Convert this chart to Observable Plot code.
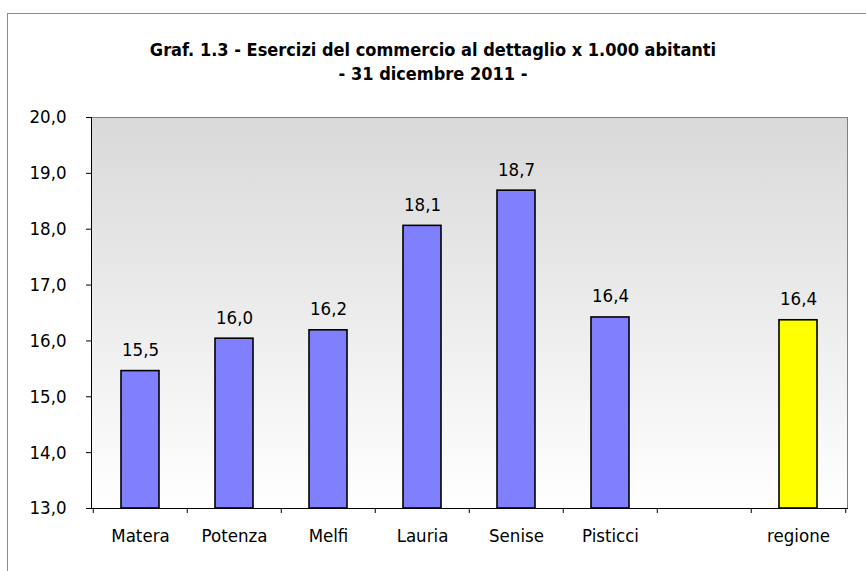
<!DOCTYPE html>
<html>
<head>
<meta charset="utf-8">
<script src="https://cdn.jsdelivr.net/npm/d3@7"></script>
<script src="https://cdn.jsdelivr.net/npm/@observablehq/plot@0.6"></script>
<style>
  html, body { margin: 0; padding: 0; background: #fff; }
  #wrap { position: relative; width: 866px; height: 571px; overflow: hidden; font-family: "DejaVu Sans Condensed", "DejaVu Sans", sans-serif; font-stretch: condensed; color: #000; }
  #border { position: absolute; left: 7px; top: 13px; width: 920px; height: 620px; border: 1px solid #8c8c8c; box-sizing: border-box; pointer-events: none; }
  #title { height: 100px; box-sizing: border-box; padding-top: 38px; text-align: center; font-weight: bold; font-size: 18px; line-height: 24px; }
  #chart svg { display: block; }
</style>
</head>
<body>
<div id="wrap">
  <div id="border"></div>
  <div id="title">Graf. 1.3 - Esercizi del commercio al dettaglio x 1.000 abitanti<br>- 31 dicembre 2011 -</div>
  <div id="chart"></div>
</div>
<script>
const categories = ["Matera", "Potenza", "Melfi", "Lauria", "Senise", "Pisticci", "", "regione"];
const values = [15.46, 16.04, 16.19, 18.06, 18.69, 16.42, null, 16.37];
const barColors = ["#8080FF", "#8080FF", "#8080FF", "#8080FF", "#8080FF", "#8080FF", null, "#FFFF00"];
const yTicks = [13, 14, 15, 16, 17, 18, 19, 20];

const data = categories
  .map((c, i) => ({cat: c, v: values[i], color: barColors[i]}))
  .filter(d => d.v != null);

const fmt = v => v.toFixed(1).replace(".", ",");

const W = 866, H = 471, ML = 91, MR = 19, MT = 17, MB = 63;
const step = (W - ML - MR) / categories.length;
const FONT = "'DejaVu Sans Condensed', 'DejaVu Sans', sans-serif";
const FS = 18.5;

const gradient = () => {
  const g = d3.create("svg:g");
  const lg = g.append("defs").append("linearGradient")
    .attr("id", "bgGrad").attr("x1", 0).attr("y1", 0).attr("x2", 0).attr("y2", 1);
  lg.append("stop").attr("offset", "0%").attr("stop-color", "#d9d9d9");
  lg.append("stop").attr("offset", "100%").attr("stop-color", "#ffffff");
  return g.node();
};

const chart = Plot.plot({
  width: W, height: H,
  marginLeft: ML, marginRight: MR, marginTop: MT, marginBottom: MB,
  style: {fontFamily: FONT, fontStretch: "condensed", fontSize: FS + "px", color: "#000", background: "transparent"},
  x: {type: "band", domain: categories, paddingInner: 0.6, paddingOuter: 0.3, axis: null},
  y: {domain: [13, 20], axis: null},
  marks: [
    gradient,
    Plot.frame({fill: "url(#bgGrad)", stroke: "#808080"}),
    Plot.barY(data, {x: "cat", y1: 13, y2: "v", fill: "color", stroke: "#000", strokeWidth: 1.6}),
    Plot.text(data, {x: "cat", y: "v", text: d => fmt(d.v), dy: -21, fontSize: FS, fill: "#000"}),
    Plot.frame({anchor: "left", stroke: "#000"}),
    Plot.frame({anchor: "bottom", stroke: "#000"}),
    Plot.ruleX(categories, {x: d => d, y1: 13, y2: 13, insetBottom: -5, dx: -step / 2, stroke: "#000"}),
    Plot.ruleX([categories[categories.length - 1]], {x: d => d, y1: 13, y2: 13, insetBottom: -5, dx: step / 2, stroke: "#000"}),
    Plot.axisY({ticks: yTicks, tickFormat: fmt, tickSize: 5, tickPadding: 20, fontSize: FS, stroke: "#000", fill: "#000", label: null}),
    Plot.axisX({tickSize: 0, tickPadding: 20, fontSize: FS, fill: "#000", tickFormat: d => d, label: null})
  ]
});
document.getElementById("chart").appendChild(chart);
</script>
</body>
</html>
